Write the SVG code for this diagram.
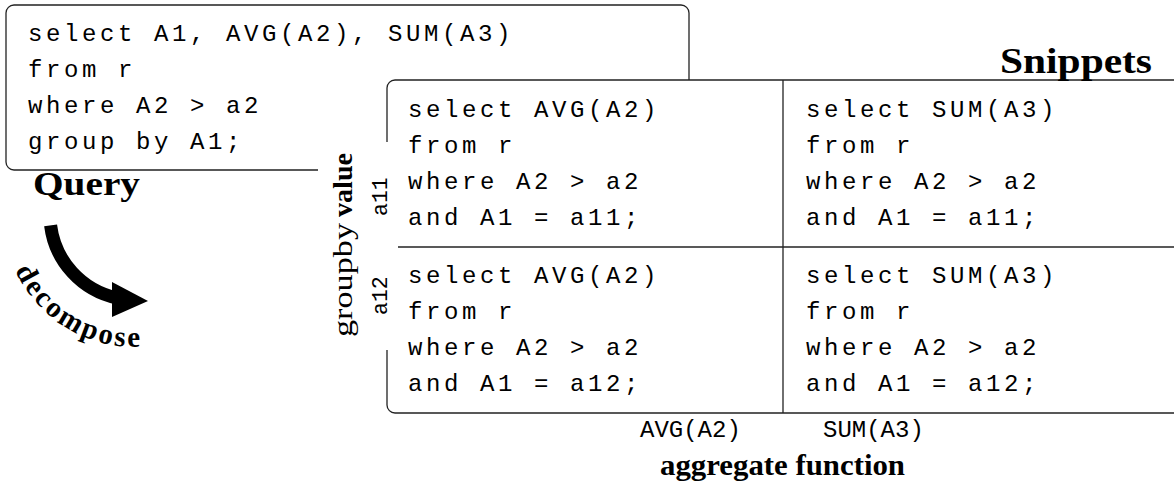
<svg xmlns="http://www.w3.org/2000/svg" width="1174" height="486" viewBox="0 0 1174 486">
  <style>
    .box{fill:#fff;stroke:#222;stroke-width:1.3}
    .rule{stroke:#222;stroke-width:1.3;fill:none}
    .code{font-family:"Liberation Mono","DejaVu Sans Mono",monospace;font-size:24px;letter-spacing:3.6px;fill:#000}
    .tt{font-family:"Liberation Mono","DejaVu Sans Mono",monospace;font-size:24px;fill:#000}
    .tts{font-family:"Liberation Mono","DejaVu Sans Mono",monospace;font-size:21.5px;fill:#000}
    .title{font-family:"Liberation Serif","DejaVu Serif",serif;font-weight:bold;fill:#000}
    .serif{font-family:"Liberation Serif","DejaVu Serif",serif;fill:#000}
  </style>
  <defs>
    <path id="decomposeArc" d="M13.5,266.6 A132,132 0 0 0 201,329.3" fill="none"/>
  </defs>

  <!-- original aggregate query -->
  <g id="query">
    <rect class="box" x="6" y="5" width="683" height="165" rx="8"/>
    <text class="code" x="28" y="41">select A1, AVG(A2), SUM(A3)</text>
    <text class="code" x="28" y="77">from r</text>
    <text class="code" x="28" y="113">where A2 &gt; a2</text>
    <text class="code" x="28" y="149">group by A1;</text>
    <text class="title" x="33" y="195" font-size="33" textLength="107" lengthAdjust="spacingAndGlyphs">Query</text>
  </g>

  <!-- grid of per-group, per-aggregate snippets -->
  <g id="snippets">
    <rect class="box" x="387" y="80" width="820" height="333" rx="8"/>
    <line class="rule" x1="783" y1="80" x2="783" y2="413"/>
    <line class="rule" x1="398" y1="247" x2="1174" y2="247"/>
    <text class="title" x="1000" y="73" font-size="36" textLength="152" lengthAdjust="spacingAndGlyphs">Snippets</text>
  </g>

  <g id="cell-avg-a11">
    <text class="code" x="408" y="117">select AVG(A2)</text>
    <text class="code" x="408" y="153">from r</text>
    <text class="code" x="408" y="189">where A2 &gt; a2</text>
    <text class="code" x="408" y="225">and A1 = a11;</text>
  </g>
  <g id="cell-sum-a11">
    <text class="code" x="806" y="117">select SUM(A3)</text>
    <text class="code" x="806" y="153">from r</text>
    <text class="code" x="806" y="189">where A2 &gt; a2</text>
    <text class="code" x="806" y="225">and A1 = a11;</text>
  </g>
  <g id="cell-avg-a12">
    <text class="code" x="408" y="283">select AVG(A2)</text>
    <text class="code" x="408" y="319">from r</text>
    <text class="code" x="408" y="355">where A2 &gt; a2</text>
    <text class="code" x="408" y="391">and A1 = a12;</text>
  </g>
  <g id="cell-sum-a12">
    <text class="code" x="806" y="283">select SUM(A3)</text>
    <text class="code" x="806" y="319">from r</text>
    <text class="code" x="806" y="355">where A2 &gt; a2</text>
    <text class="code" x="806" y="391">and A1 = a12;</text>
  </g>

  <!-- row axis: group-by values -->
  <g id="row-axis">
    <rect x="318" y="142" width="80" height="208" fill="#fff"/>
    <text class="serif" font-size="28" transform="translate(352,337) rotate(-90)" textLength="114" lengthAdjust="spacingAndGlyphs">groupby</text>
    <text class="title" font-size="28" transform="translate(352,217) rotate(-90)" textLength="64" lengthAdjust="spacingAndGlyphs">value</text>
    <text class="tts" transform="translate(387,216) rotate(-90)">a11</text>
    <text class="tts" transform="translate(387,315) rotate(-90)">a12</text>
  </g>

  <!-- column axis: aggregate functions -->
  <g id="col-axis">
    <text class="tt" x="640" y="437">AVG(A2)</text>
    <text class="tt" x="823" y="437">SUM(A3)</text>
    <text class="title" x="660" y="475" font-size="29" textLength="245" lengthAdjust="spacingAndGlyphs">aggregate function</text>
  </g>

  <!-- decompose arrow -->
  <g id="connectors">
    <path d="M50.6,225.4 A85,85 0 0 0 117.3,298.1" stroke="#000" stroke-width="13" fill="none"/>
    <polygon points="112,282 148,301 112,317" fill="#000"/>
    <text class="title" font-size="29" letter-spacing="2.5"><textPath href="#decomposeArc" startOffset="4">decompose</textPath></text>
  </g>
</svg>
